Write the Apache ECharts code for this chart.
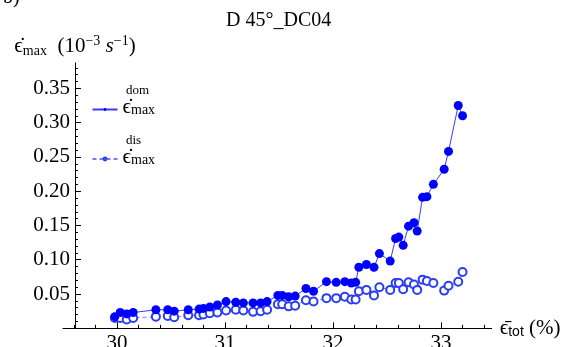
<!DOCTYPE html>
<html><head><meta charset="utf-8">
<script src="https://cdn.jsdelivr.net/npm/echarts@6/dist/echarts.min.js"></script>
<style>html,body{margin:0;padding:0;background:#fff}#c{width:574px;height:347px}</style>
</head><body><div id="c"></div>
<script>
const strainTot = [29.98, 30.03, 30.09, 30.15, 30.36, 30.47, 30.53, 30.66, 30.76, 30.80, 30.86, 30.93, 31.01, 31.10, 31.17, 31.26, 31.33, 31.39, 31.49, 31.53, 31.59, 31.65, 31.75, 31.82, 31.94, 32.03, 32.11, 32.17, 32.21, 32.24, 32.31, 32.38, 32.43, 32.53, 32.58, 32.61, 32.65, 32.70, 32.75, 32.78, 32.83, 32.87, 32.93, 33.03, 33.07, 33.16, 33.20];
const rateDom = [0.017, 0.023, 0.021, 0.023, 0.027, 0.027, 0.025, 0.027, 0.028, 0.029, 0.031, 0.034, 0.039, 0.038, 0.037, 0.037, 0.037, 0.039, 0.048, 0.048, 0.046, 0.047, 0.058, 0.054, 0.068, 0.067, 0.068, 0.066, 0.067, 0.089, 0.093, 0.089, 0.109, 0.098, 0.131, 0.133, 0.121, 0.149, 0.154, 0.142, 0.191, 0.192, 0.210, 0.232, 0.258, 0.325, 0.310];
const rateDis = [0.015, 0.015, 0.013, 0.015, 0.017, 0.018, 0.016, 0.019, 0.019, 0.020, 0.022, 0.023, 0.026, 0.027, 0.026, 0.024, 0.025, 0.027, 0.035, 0.035, 0.032, 0.033, 0.041, 0.039, 0.044, 0.044, 0.046, 0.042, 0.042, 0.054, 0.056, 0.048, 0.060, 0.056, 0.066, 0.066, 0.057, 0.067, 0.064, 0.056, 0.071, 0.069, 0.066, 0.055, 0.062, 0.068, 0.082];
const xMajorTicks = [30, 31, 32, 33];
const xMinorTicks = [29.6, 29.8, 30.0, 30.2, 30.4, 30.6, 30.8, 31.0, 31.2, 31.4, 31.6, 31.8, 32.0, 32.2, 32.4, 32.6, 32.8, 33.0, 33.2, 33.4];
const yMajorTicks = [0.05, 0.10, 0.15, 0.20, 0.25, 0.30, 0.35];
const yMinorTicks = [0.01, 0.02, 0.03, 0.04, 0.06, 0.07, 0.08, 0.09, 0.11, 0.12, 0.13, 0.14, 0.16, 0.17, 0.18, 0.19, 0.21, 0.22, 0.23, 0.24, 0.26, 0.27, 0.28, 0.29, 0.31, 0.32, 0.33, 0.34, 0.36, 0.37, 0.38];

const SERIF = "'Liberation Serif', 'DejaVu Serif', serif";
const X_MIN = 29.5, X_MAX = 33.47, Y_MIN = 0, Y_MAX = 0.387;

const pair = (xs, ys) => xs.map((x, i) => [x, ys[i]]);
const chart = echarts.init(document.getElementById('c'), null, {renderer: 'canvas'});

const legendRich = {
  e: {fontSize: 21, fontFamily: SERIF, color: '#000', lineHeight: 20},
  s: {fontSize: 14, fontFamily: SERIF, color: '#000', lineHeight: 20, verticalAlign: 'bottom'}
};

chart.setOption({
  animation: false,
  backgroundColor: '#fff',
  title: {
    text: 'D 45°_DC04', left: 221, top: 6,
    textStyle: {fontFamily: SERIF, fontSize: 20, fontWeight: 'normal', color: '#000'}
  },
  grid: {left: 63, right: 82.3, top: 63, bottom: 18.7, outerBoundsMode: 'none', containLabel: false},
  legend: [
    {data: ['dom'], left: 86.5, top: 92, itemWidth: 25, itemHeight: 3.5, selectedMode: false,
     formatter: () => '{e|ϵ\u0307}{s|max}', textStyle: {rich: legendRich, padding: [0, 0, 4, 0]}},
    {data: ['dis'], left: 86.5, top: 141.5, itemWidth: 25, itemHeight: 3.5, selectedMode: false,
     formatter: () => '{e|ϵ\u0307}{s|max}', textStyle: {rich: legendRich, padding: [0, 0, 4, 0]}}
  ],
  graphic: [
    {type: 'text', left: 3, top: -12, style: {text: 'b)', font: '20px ' + SERIF, fill: '#000'}},
    {type: 'text', left: 126, top: 84, style: {text: 'dom', font: '13px ' + SERIF, fill: '#000'}},
    {type: 'text', left: 126, top: 134, style: {text: 'dis', font: '13px ' + SERIF, fill: '#000'}}
  ],
  xAxis: [
    {type: 'value', min: X_MIN, max: X_MAX, position: 'bottom',
     axisLine: {show: true, onZero: false, lineStyle: {color: '#000', width: 1}},
     axisTick: {show: true, inside: true, length: 3.5, customValues: xMinorTicks, lineStyle: {color: '#000'}},
     axisLabel: {show: false}, splitLine: {show: false}},
    {type: 'value', min: X_MIN, max: X_MAX, position: 'bottom',
     axisLine: {show: false, onZero: false},
     axisTick: {show: true, inside: true, length: 6, customValues: xMajorTicks, lineStyle: {color: '#000'}},
     axisLabel: {show: true, customValues: xMajorTicks, margin: 5, fontFamily: SERIF, fontSize: 21, color: '#000'},
     splitLine: {show: false},
     name: '{e|ϵ\u0304}{sub|tot}{n| (%)}', nameLocation: 'end', nameGap: 8,
     nameTextStyle: {rich: {
       e: {fontSize: 21, fontFamily: SERIF, color: '#000', lineHeight: 22},
       sub: {fontSize: 14, fontFamily: 'Liberation Sans, sans-serif', color: '#000', lineHeight: 22, verticalAlign: 'bottom'},
       n: {fontSize: 21, fontFamily: SERIF, color: '#000', lineHeight: 22}
     }}}
  ],
  yAxis: [
    {type: 'value', min: Y_MIN, max: Y_MAX, position: 'left', offset: -12,
     axisLine: {show: true, onZero: false, lineStyle: {color: '#000', width: 1}},
     axisTick: {show: true, inside: true, length: 6, customValues: yMajorTicks, lineStyle: {color: '#000'}},
     axisLabel: {show: true, customValues: yMajorTicks, margin: 5, fontFamily: SERIF, fontSize: 21, color: '#000',
                 formatter: v => v.toFixed(2)},
     splitLine: {show: false},
     name: '{e|ϵ\u0307}{sub|max}{n|  (10}{sup|−3}{n| }{i|s}{sup|−1}{n|)}',
     nameLocation: 'end', nameGap: 5,
     nameTextStyle: {align: 'center', padding: [0, 0, 0, 0], rich: {
       e: {fontSize: 21, fontFamily: SERIF, color: '#000', lineHeight: 24},
       sub: {fontSize: 14, fontFamily: SERIF, color: '#000', lineHeight: 24, verticalAlign: 'bottom'},
       n: {fontSize: 21, fontFamily: SERIF, color: '#000', lineHeight: 24},
       i: {fontSize: 21, fontFamily: SERIF, fontStyle: 'italic', color: '#000', lineHeight: 24},
       sup: {fontSize: 14, fontFamily: SERIF, color: '#000', lineHeight: 24, verticalAlign: 'top'}
     }}},
    {type: 'value', min: Y_MIN, max: Y_MAX, position: 'left', offset: -12,
     axisLine: {show: false, onZero: false},
     axisTick: {show: true, inside: true, length: 3, customValues: yMinorTicks, lineStyle: {color: '#000'}},
     axisLabel: {show: false}, splitLine: {show: false}}
  ],
  series: [
    {name: 'dis', type: 'line', xAxisIndex: 0, yAxisIndex: 0, data: pair(strainTot, rateDis),
     symbol: 'emptyCircle', symbolSize: 8, z: 2,
     itemStyle: {color: '#2b3df2', borderWidth: 1},
     lineStyle: {color: '#7a7aff', width: 1, type: [4, 3]}},
    {name: 'dom', type: 'line', xAxisIndex: 0, yAxisIndex: 0, data: pair(strainTot, rateDom),
     symbol: 'circle', symbolSize: 9, z: 3,
     itemStyle: {color: '#0000ff'},
     lineStyle: {color: '#3a3aff', width: 1}}
  ]
});
</script></body></html>
